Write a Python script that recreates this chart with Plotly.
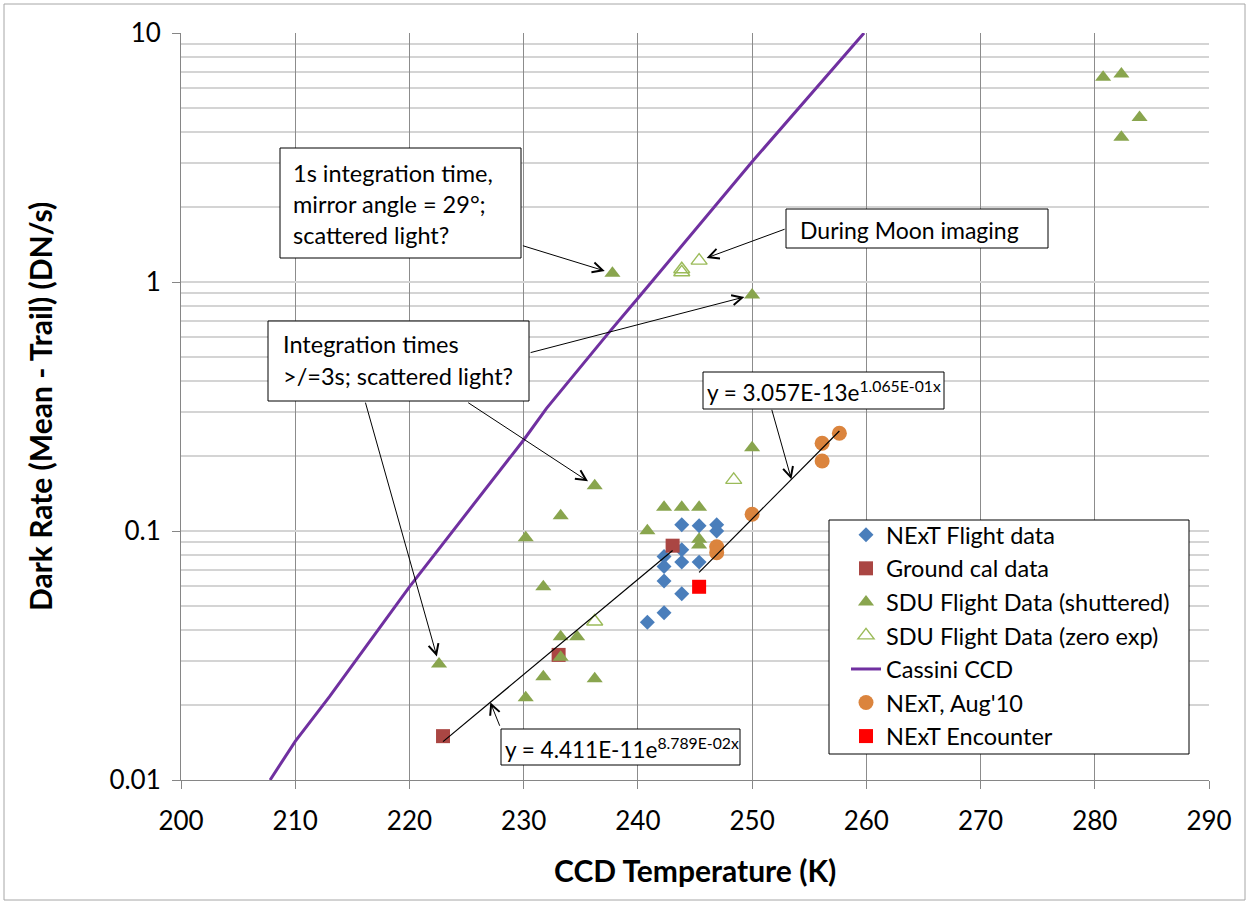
import numpy as np
import plotly.graph_objects as go

# ---------------- data ----------------
next_x = [243.84, 245.36, 246.90, 246.90, 243.84, 242.29, 242.29, 243.84, 245.36, 242.29, 243.84, 242.29, 240.83]
next_y = [0.106, 0.105, 0.106, 0.100, 0.084, 0.079, 0.072, 0.075, 0.075, 0.063, 0.056, 0.047, 0.043]

ground_x = [243.04, 233.06, 222.94]
ground_y = [0.0873, 0.0318, 0.0150]

sdu_x = [250.00, 236.22, 242.29, 243.84, 245.36, 233.24, 240.83, 230.18, 245.36, 245.36,
         231.72, 233.24, 234.68, 233.24, 222.59, 231.72, 236.22, 230.18, 237.77, 250.00,
         280.73, 282.33, 283.92, 282.33]
sdu_y = [0.216, 0.152, 0.1245, 0.1245, 0.1245, 0.1152, 0.1003, 0.094, 0.0926, 0.0879,
         0.0597, 0.0376, 0.0376, 0.0311, 0.0292, 0.0260, 0.0255, 0.0214, 1.084, 0.887,
         6.64, 6.84, 4.58, 3.81]

sdu_zero_x = [243.84, 243.84, 245.36, 248.39, 236.22]
sdu_zero_y = [1.125, 1.094, 1.218, 0.1605, 0.0433]

cassini_x = [207.8, 210.0, 213.0, 220.0, 230.0, 232.0, 237.4, 240.0, 250.0, 259.8]
cassini_y = [0.0100, 0.0143, 0.0216, 0.0597, 0.232, 0.311, 0.622, 0.86, 3.04, 10.0]

aug_x = [246.90, 246.90, 250.00, 256.13, 256.13, 257.64]
aug_y = [0.0865, 0.0818, 0.1167, 0.225, 0.191, 0.247]

enc_x = [245.36]
enc_y = [0.0597]

# exponential trendlines as printed on the chart: y = a * exp(b * x)
trend1_a, trend1_b, trend1_xr = 4.411e-11, 8.789e-02, [222.94, 243.04]
trend2_a, trend2_b, trend2_xr = 3.057e-13, 1.065e-01, [245.36, 257.64]
trend1_label = "y = 4.411E-11e<sup>8.789E-02x</sup>"
trend2_label = "y = 3.057E-13e<sup>1.065E-01x</sup>"

x_ticks = [200, 210, 220, 230, 240, 250, 260, 270, 280, 290]
y_ticks = [0.01, 0.1, 1, 10]
y_ticktext = ["0.01", "0.1", "1", "10"]

# ---------------- layout helpers ----------------
W, H = 1250, 905
L, R, T, B = 181, 41, 33, 125
PW, PH = W - L - R, H - T - B
FONT = "Lato, 'Open Sans', sans-serif"


def px_x(p):
    return (p - L) / PW


def px_y(p):
    return (H - B - p) / PH


def trend(a, b, xr):
    xs = np.array(xr, dtype=float)
    return xs, a * np.exp(b * xs)


fig = go.Figure()

fig.add_trace(go.Scatter(x=next_x, y=next_y, mode="markers", name="NExT Flight data",
                         legendgroup="g1",
                         marker=dict(symbol="diamond", size=11.5, color="#4A7EBB")))
fig.add_trace(go.Scatter(x=ground_x, y=ground_y, mode="markers", name="Ground cal data",
                         legendgroup="g2",
                         marker=dict(symbol="square", size=14, color="#AA4643")))
fig.add_trace(go.Scatter(x=sdu_x, y=sdu_y, mode="markers", name="SDU Flight Data (shuttered)",
                         legendgroup="g3",
                         marker=dict(symbol="triangle-up", size=14, color="#89A54E")))
fig.add_trace(go.Scatter(x=sdu_zero_x, y=sdu_zero_y, mode="markers", name="SDU Flight Data (zero exp)",
                         legendgroup="g4",
                         marker=dict(symbol="triangle-up-open", size=14, color="#9BBB59",
                                     line=dict(width=1.4, color="#9BBB59"))))
fig.add_trace(go.Scatter(x=cassini_x, y=cassini_y, mode="lines", name="Cassini CCD",
                         legendgroup="g5",
                         line=dict(color="#7030A0", width=3)))
fig.add_trace(go.Scatter(x=aug_x, y=aug_y, mode="markers", name="NExT, Aug'10",
                         legendgroup="g6",
                         marker=dict(symbol="circle", size=15, color="#DB843D")))
fig.add_trace(go.Scatter(x=enc_x, y=enc_y, mode="markers", name="NExT Encounter",
                         legendgroup="g7",
                         marker=dict(symbol="square", size=14, color="#FF0000")))

t1x, t1y = trend(trend1_a, trend1_b, trend1_xr)
t2x, t2y = trend(trend2_a, trend2_b, trend2_xr)
fig.add_trace(go.Scatter(x=t1x, y=t1y, mode="lines", showlegend=False,
                         line=dict(color="black", width=1.2), hoverinfo="skip"))
fig.add_trace(go.Scatter(x=t2x, y=t2y, mode="lines", showlegend=False,
                         line=dict(color="black", width=1.2), hoverinfo="skip"))

shapes = []
annotations = []

# outer chart border
shapes.append(dict(type="rect", xref="paper", yref="paper",
                   x0=px_x(4), x1=px_x(1245), y0=px_y(900), y1=px_y(4),
                   line=dict(color="#A6A6A6", width=1), layer="below"))

# legend frame (legend itself is drawn borderless on top of it)
shapes.append(dict(type="rect", xref="paper", yref="paper",
                   x0=px_x(829), x1=px_x(1189), y0=px_y(754), y1=px_y(520),
                   line=dict(color="black", width=1), fillcolor="white", layer="above"))


def text_box(x0, y0, x1, y1, lines, text_left, line_mid, size=23.5):
    shapes.append(dict(type="rect", xref="paper", yref="paper",
                       x0=px_x(x0), x1=px_x(x1), y0=px_y(y1), y1=px_y(y0),
                       line=dict(color="black", width=1), fillcolor="white", layer="above"))
    for txt, ym in zip(lines, line_mid):
        annotations.append(dict(xref="paper", yref="paper", x=px_x(text_left), y=px_y(ym),
                                xanchor="left", yanchor="middle", showarrow=False,
                                text=txt, font=dict(family=FONT, size=size, color="black")))


text_box(280, 148, 521, 258, ["1s integration time,", "mirror angle = 29°;", "scattered light?"],
         291, [173, 204, 235])
text_box(268, 321, 529, 401, ["Integration times", ">/=3s; scattered light?"],
         281, [344, 376])
text_box(786, 209, 1048, 248, ["During Moon imaging"], 798, [230], 23)
text_box(703, 372, 944, 409, [trend2_label], 705, [391], 22.5)
text_box(501, 729, 740, 765, [trend1_label], 503, [748], 22.5)


def arrow(xd, yd, ax, ay, standoff):
    annotations.append(dict(x=xd, y=float(np.log10(yd)), xref="x", yref="y",
                            ax=ax, ay=ay, axref="pixel", ayref="pixel", text="",
                            showarrow=True, arrowhead=5, arrowsize=2, arrowwidth=1,
                            arrowcolor="black", standoff=standoff))


arrow(sdu_x[18], sdu_y[18], -91, -28, 8)
arrow(sdu_x[19], sdu_y[19], -223, 58, 8)
arrow(sdu_x[14], sdu_y[14], -74, -263, 8)
arrow(sdu_x[1], sdu_y[1], -128, -84, 8)
arrow(sdu_zero_x[2], sdu_zero_y[2], 87, -32, 8)
ax2 = 253.44
arrow(ax2, trend2_a * np.exp(trend2_b * ax2), -20, -71, 0)
ax1 = 227.08
arrow(ax1, trend1_a * np.exp(trend1_b * ax1), 10, 25, 0)

# axis titles
annotations.append(dict(xref="paper", yref="paper", x=px_x(40), y=px_y(407), textangle=-90,
                        xanchor="center", yanchor="middle", showarrow=False,
                        text="<b>Dark Rate (Mean - Trail) (DN/s)</b>",
                        font=dict(family=FONT, size=30, color="black")))
annotations.append(dict(xref="paper", yref="paper", x=0.5, y=px_y(870),
                        xanchor="center", yanchor="middle", showarrow=False,
                        text="<b>CCD Temperature (K)</b>",
                        font=dict(family=FONT, size=30, color="black")))

fig.update_layout(
    width=W, height=H,
    margin=dict(l=L, r=R, t=T, b=B, pad=0),
    paper_bgcolor="white", plot_bgcolor="white",
    font=dict(family=FONT, color="black"),
    shapes=shapes, annotations=annotations,
    legend=dict(x=px_x(846), y=px_y(513), xanchor="left", yanchor="top",
                borderwidth=0, bgcolor="rgba(0,0,0,0)",
                font=dict(family=FONT, size=23.5, color="black"),
                tracegroupgap=0, itemsizing="trace"),
    xaxis=dict(range=[200, 290], tickvals=x_ticks, ticks="outside", ticklen=8,
               tickcolor="#868686", showline=True, linecolor="#868686", linewidth=1,
               showgrid=True, gridcolor="#8C8C8C", gridwidth=1, zeroline=False,
               ticklabelstandoff=10,
               tickfont=dict(family=FONT, size=26, color="black")),
    yaxis=dict(type="log", range=[-2, 1], tickvals=y_ticks, ticktext=y_ticktext,
               ticks="outside", ticklen=8, tickcolor="#868686",
               showline=True, linecolor="#868686", linewidth=1,
               showgrid=True, gridcolor="#D4D4D4", gridwidth=1.5, zeroline=False,
               minor=dict(dtick="D1", showgrid=True, gridcolor="#D4D4D4", gridwidth=1.5, ticks=""),
               ticklabelstandoff=6,
               tickfont=dict(family=FONT, size=26, color="black")),
)

fig.write_html("out.html")
